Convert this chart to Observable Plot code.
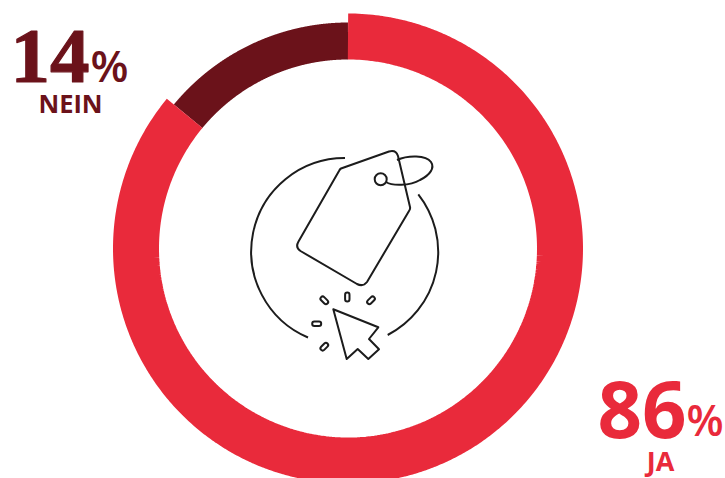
<!DOCTYPE html>
<html lang="de">
<head>
<meta charset="utf-8">
<title>Ja / Nein</title>
<script src="https://cdn.jsdelivr.net/npm/d3@7"></script>
<script src="https://cdn.jsdelivr.net/npm/@observablehq/plot@0.6"></script>
<style>
  html, body { margin: 0; padding: 0; background: #fff; overflow: hidden; }
  svg { display: block; }
</style>
</head>
<body>
<div id="chart"></div>
<script>
// Survey answers, in ring order (clockwise from twelve o'clock)
const answers = ["JA", "NEIN"];
const shares = [86, 14];
const colors = ["#E92A3B", "#6B121A"];

// Ring geometry, in plot units (one unit is one pixel)
const center = [347.5, 248];
const innerRadius = 189;
const outerRadii = [235, 226];

// Turn each share into a run of points along its part of the ring
function ringSegment(i) {
  const total = d3.sum(shares);
  const from = d3.sum(shares.slice(0, i)) / total * 2 * Math.PI;
  const to = from + shares[i] / total * 2 * Math.PI;
  const r = (innerRadius + outerRadii[i]) / 2;
  const n = 360;
  return d3.range(n + 1).map(k => {
    const a = from + (to - from) * k / n;
    return {x: center[0] + r * Math.sin(a), y: center[1] - r * Math.cos(a)};
  });
}

function ringMark(i) {
  return Plot.line(ringSegment(i), {
    x: "x",
    y: "y",
    stroke: colors[i],
    strokeWidth: outerRadii[i] - innerRadius,
    strokeLinecap: "butt",
    strokeLinejoin: "miter"
  });
}

const sans = "'Open Sans', sans-serif";
const serif = "'Liberation Serif', serif";

function textMark(str, x, y, color, fontSize, fontFamily, fontWeight, textAnchor = "start", thicken = 0) {
  return Plot.text([str], {
    x: () => x,
    y: () => y,
    text: d => d,
    fill: color,
    stroke: thicken ? color : "none",
    strokeWidth: thicken,
    fontSize,
    fontFamily,
    fontWeight,
    textAnchor,
    lineAnchor: "bottom"
  });
}

// Price tag and mouse pointer line icon in the middle of the ring
const iconPaths = [
  "M345,158 A93.5,93.5 0 0 0 308,337.5",
  "M418.3,194.3 A93.5,93.5 0 0 1 387.7,335",
  "M341,168.5 L389,151.5 Q396,149.5 398,156 L410,207 Q410.5,209 409,211 L367,282 Q363,287 357,284 L300.5,251 Q295,247.5 298.5,241.5 L339,171 Q340,169 341,168.5 Z",
  "M386,182 C392,186 410,186 420,180 C430,175 435,168 431,162 C426,155 408,155 397,160",
  "M333.3,309.3 L378.3,327.3 L369,339 L379,349.3 L368.3,359 L357.7,349 L346.7,359 Z"
];
const iconHole = {cx: 380.7, cy: 179.3, r: 6};
const iconSparks = [
  {x: 324.3, y: 300.3, angle: 45},
  {x: 347.3, y: 297, angle: 90},
  {x: 371, y: 300.3, angle: -45},
  {x: 316.7, y: 323.7, angle: 0},
  {x: 324.3, y: 346.7, angle: -45}
];

function iconMark() {
  const g = d3.create("svg:g")
    .attr("fill", "none")
    .attr("stroke", "#1c1c1c")
    .attr("stroke-width", 2)
    .attr("stroke-linejoin", "round");
  iconPaths.forEach(d => g.append("path").attr("d", d));
  g.append("circle").attr("cx", iconHole.cx).attr("cy", iconHole.cy).attr("r", iconHole.r);
  iconSparks.forEach(s => {
    g.append("rect")
      .attr("x", -4.5).attr("y", -2.2).attr("width", 9).attr("height", 4.4).attr("rx", 2.2)
      .attr("transform", `translate(${s.x},${s.y}) rotate(${s.angle})`);
  });
  return g.node();
}

const chart = Plot.plot({
  width: 725,
  height: 478,
  margin: 0,
  x: {domain: [0, 725], range: [0, 725], axis: null},
  y: {domain: [0, 478], range: [0, 478], axis: null},
  marks: [
    ringMark(1),
    ringMark(0),
    iconMark,
    textMark(String(shares[1]), 10, 81, colors[1], 79, serif, 700, "start", 1.2),
    textMark("%", 90, 81, colors[1], 44, sans, 600),
    textMark(answers[1], 70, 112, colors[1], 25.5, sans, 700, "middle"),
    textMark(String(shares[0]), 597, 437, colors[0], 78, sans, 700),
    textMark("%", 686, 435, colors[0], 43, sans, 600),
    textMark(answers[0], 660, 470, colors[0], 27, sans, 700, "middle")
  ]
});

document.getElementById("chart").append(chart);
</script>
</body>
</html>
